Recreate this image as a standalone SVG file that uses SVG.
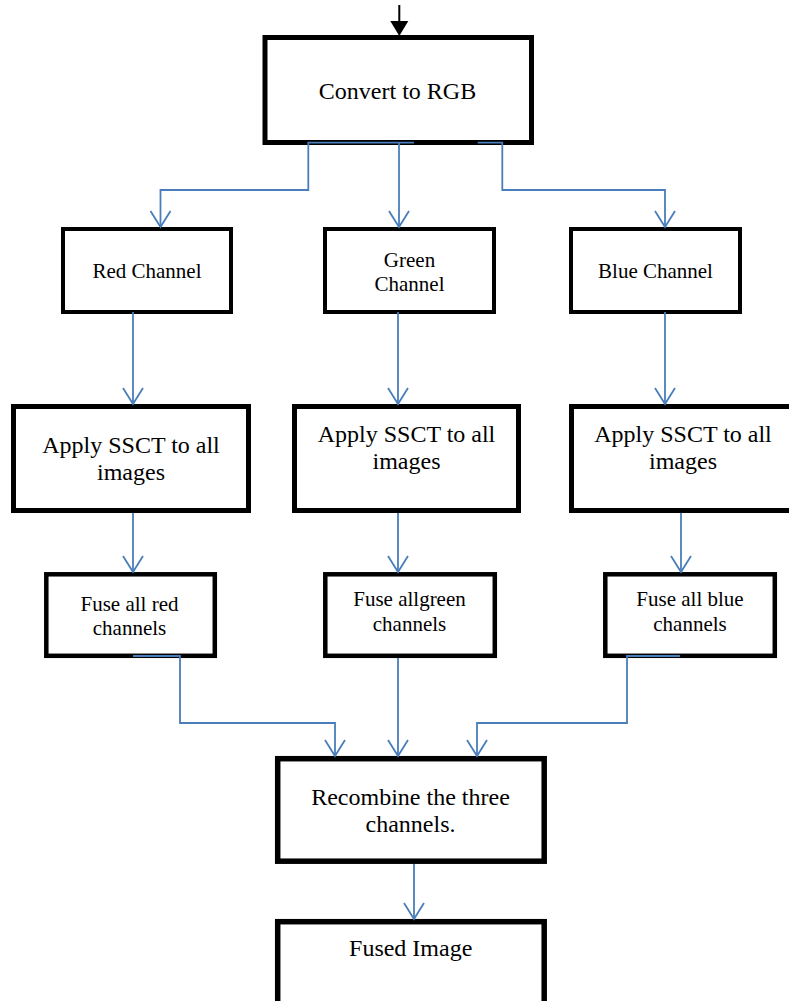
<svg xmlns="http://www.w3.org/2000/svg" width="789" height="1001" viewBox="0 0 789 1001">
<style>
.box{fill:#ffffff;stroke:#000000}
text{font-family:'Liberation Serif','Times New Roman','DejaVu Serif',serif;fill:#000000;text-anchor:middle}
.s21{font-size:21px}
.s24{font-size:24px}
.c{fill:none;stroke:#4a7ebb;stroke-width:1.8}
</style>
<defs>
<marker id="v" markerUnits="userSpaceOnUse" markerWidth="24" markerHeight="24" refX="20" refY="12" orient="auto">
<path d="M4,2 L20,12 L4,22" fill="none" stroke="#4a7ebb" stroke-width="1.8"/>
</marker>
</defs>
<rect width="789" height="1001" fill="#ffffff"/>
<g id="start-arrow">
<line x1="399.3" y1="5" x2="399.3" y2="24" stroke="#000" stroke-width="2"/>
<polygon points="390.3,21 408.3,21 399.3,36" fill="#000"/>
</g>
<g id="convert">
<rect class="box" x="265" y="37.5" width="266.5" height="105" stroke-width="5"/>
<text class="s24" x="397.5" y="99" font-family="Liberation Serif, serif">Convert to RGB</text>
</g>
<g id="red-channel">
<rect class="box" x="63" y="229" width="168" height="83" stroke-width="4"/>
<text class="s21" x="147" y="278">Red Channel</text>
</g>
<g id="green-channel">
<rect class="box" x="325" y="229" width="169" height="83" stroke-width="4"/>
<text class="s21" x="409.5" y="267">Green</text>
<text class="s21" x="409.5" y="291">Channel</text>
</g>
<g id="blue-channel">
<rect class="box" x="571" y="229" width="169" height="83" stroke-width="4"/>
<text class="s21" x="655.5" y="278">Blue Channel</text>
</g>
<g id="ssct-red">
<rect class="box" x="13.5" y="406.5" width="235" height="104" stroke-width="5"/>
<text class="s24" x="131" y="453">Apply SSCT to all</text>
<text class="s24" x="131" y="480">images</text>
</g>
<g id="ssct-green">
<rect class="box" x="294.5" y="406.5" width="224" height="104" stroke-width="5"/>
<text class="s24" x="406.5" y="442">Apply SSCT to all</text>
<text class="s24" x="406.5" y="469">images</text>
</g>
<g id="ssct-blue">
<rect class="box" x="571.5" y="406.5" width="230" height="104" stroke-width="5"/>
<text class="s24" x="683" y="442">Apply SSCT to all</text>
<text class="s24" x="683" y="469">images</text>
</g>
<g id="fuse-red">
<rect class="box" x="46.3" y="574.3" width="168.5" height="81.5" stroke-width="4.5"/>
<text class="s21" x="129.5" y="611">Fuse all red</text>
<text class="s21" x="129.5" y="635">channels</text>
</g>
<g id="fuse-green">
<rect class="box" x="325.3" y="574.3" width="169.5" height="81.5" stroke-width="4.5"/>
<text class="s21" x="409.5" y="606">Fuse allgreen</text>
<text class="s21" x="409.5" y="631">channels</text>
</g>
<g id="fuse-blue">
<rect class="box" x="605.3" y="574.3" width="169.5" height="81.5" stroke-width="4.5"/>
<text class="s21" x="690" y="606">Fuse all blue</text>
<text class="s21" x="690" y="631">channels</text>
</g>
<g id="recombine">
<rect class="box" x="277.7" y="758.7" width="266.5" height="102.5" stroke-width="5.5"/>
<text class="s24" x="410.5" y="804.5">Recombine the three</text>
<text class="s24" x="410.5" y="832">channels.</text>
</g>
<g id="fused-image">
<rect class="box" x="277.7" y="921.7" width="266.5" height="90" stroke-width="5.5"/>
<text class="s24" x="410.7" y="956">Fused Image</text>
</g>
<g id="connectors">
<path class="c" d="M414,142.7 H308.3 V190 H160.5 V227" marker-end="url(#v)"/>
<path class="c" d="M399,142.7 V227" marker-end="url(#v)"/>
<path class="c" d="M477.7,142.7 H502.3 V190 H665 V227" marker-end="url(#v)"/>
<path class="c" d="M133,312 V404" marker-end="url(#v)"/>
<path class="c" d="M398,312 V404" marker-end="url(#v)"/>
<path class="c" d="M665,312 V404" marker-end="url(#v)"/>
<path class="c" d="M133,513 V572" marker-end="url(#v)"/>
<path class="c" d="M398,513 V572" marker-end="url(#v)"/>
<path class="c" d="M681,513 V572" marker-end="url(#v)"/>
<path class="c" d="M133,656 H180 V723 H335 V756" marker-end="url(#v)"/>
<path class="c" d="M398,658 V756" marker-end="url(#v)"/>
<path class="c" d="M680,656 H627 V723 H477 V756" marker-end="url(#v)"/>
<path class="c" d="M414,864 V919" marker-end="url(#v)"/>
</g>
</svg>
